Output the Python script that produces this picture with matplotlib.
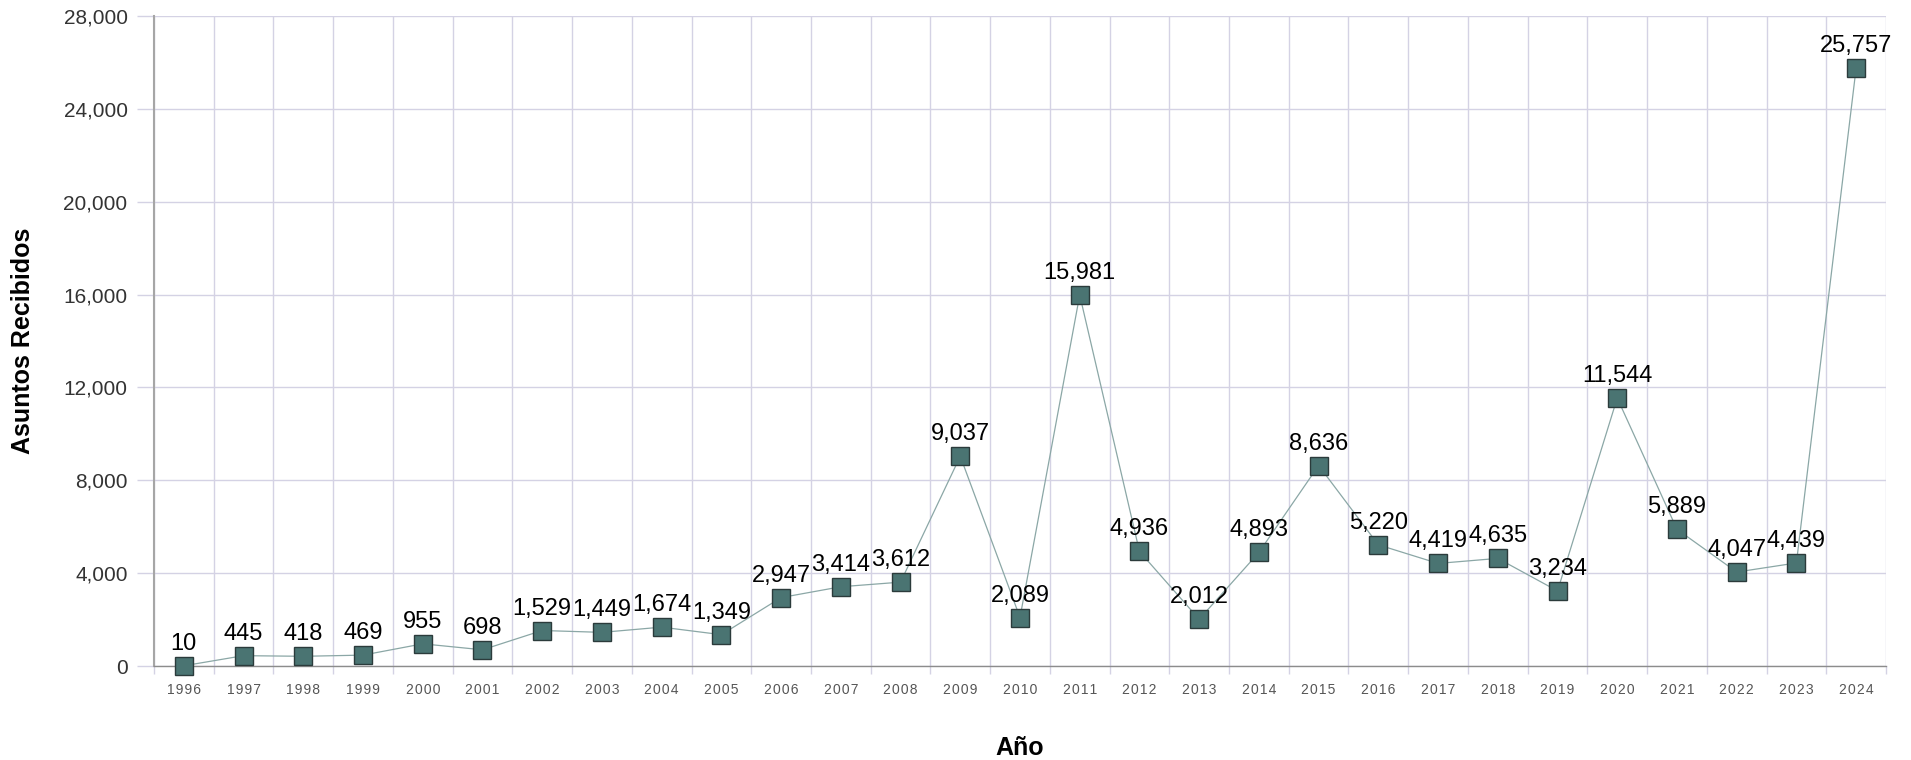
import matplotlib.pyplot as plt
import numpy as np
from matplotlib.ticker import FuncFormatter

years = [str(y) for y in range(1996, 2025)]
asuntos = [10, 445, 418, 469, 955, 698, 1529, 1449, 1674, 1349,
           2947, 3414, 3612, 9037, 2089, 15981, 4936, 2012, 4893, 8636,
           5220, 4419, 4635, 3234, 11544, 5889, 4047, 4439, 25757]
y_ticks = [0, 4000, 8000, 12000, 16000, 20000, 24000, 28000]

plt.rcParams['font.family'] = ['Liberation Sans', 'DejaVu Sans']

fig = plt.figure(figsize=(19.11, 7.6), dpi=100)
ax = fig.add_axes([154 / 1911, 1 - 666 / 760, (1886 - 154) / 1911, (666 - 16) / 760])

x = np.arange(len(years))
ax.plot(x, asuntos, color='#8ba7a6', lw=0.9, marker='s', markersize=13,
        markerfacecolor='#4a7472', markeredgecolor='#2b3b3b', markeredgewidth=1,
        clip_on=False, zorder=3)

for xi, v in zip(x, asuntos):
    ax.annotate(f'{v:,}', (xi, v), xytext=(0, 11.5), textcoords='offset points',
                ha='center', va='baseline', fontsize=17, color='black', zorder=4)

ax.set_xlim(-0.5, len(years) - 0.5)
ax.set_ylim(0, 28000)
ax.set_yticks(y_ticks)
ax.yaxis.set_major_formatter(FuncFormatter(lambda v, p: f'{int(v):,}'))
ax.tick_params(axis='y', length=12, width=1, color='#d4d2e4', pad=7,
               labelsize=15, labelcolor='#333333')

# year labels at centres, grid lines at category boundaries
ax.set_xticks(x)
ax.set_xticklabels(['\u200a'.join(y) for y in years])
ax.set_xticks(np.arange(-0.5, len(years)), minor=True)
ax.tick_params(axis='x', which='major', length=0, pad=12, labelsize=10,
               labelcolor='#555555')
ax.tick_params(axis='x', which='minor', length=6, width=1, color='#d4d2e4')

ax.grid(axis='y', which='major', color='#d4d2e4', lw=1)
ax.grid(axis='x', which='minor', color='#d4d2e4', lw=1)
ax.set_axisbelow(True)

for s in ['top', 'right']:
    ax.spines[s].set_visible(False)
ax.spines['left'].set_color('#a6a6a6')
ax.spines['left'].set_linewidth(1.5)
ax.spines['bottom'].set_color('#8c8c8c')
ax.spines['bottom'].set_linewidth(1)

fig.text(1020 / 1911, 5 / 760, 'Año', ha='center', va='baseline',
         fontsize=18, fontweight='bold')
fig.text(23 / 1911, 1 - 341 / 760, 'Asuntos Recibidos', ha='center', va='center',
         rotation=90, fontsize=18, fontweight='bold')

fig.savefig('out.png', dpi=100)
